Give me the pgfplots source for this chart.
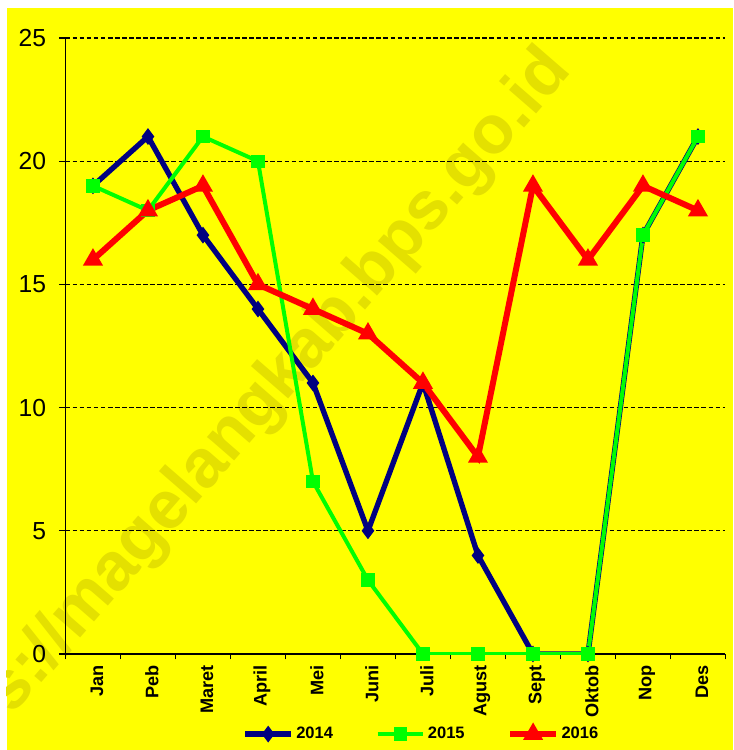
\documentclass[border=0pt]{standalone}
\usepackage{fontspec}
\setmainfont{Liberation Sans}
\usepackage{pgfplots}
\pgfplotsset{compat=1.18}
\definecolor{bgyellow}{RGB}{255,255,0}
\definecolor{wmark}{RGB}{228,224,0}
\definecolor{navyline}{RGB}{0,0,128}
\definecolor{greenline}{RGB}{0,255,0}
\definecolor{redline}{RGB}{255,0,0}
\begin{document}
\begin{tikzpicture}
\useasboundingbox (0,0) rectangle (549.75pt,562.5pt);
\fill[white] (0,0) rectangle (549.75pt,562.5pt);
\fill[bgyellow] (5pt,0pt) rectangle (549.75pt,556.5pt);
\begin{scope}
\clip (5pt,0pt) rectangle (549.75pt,556.5pt);
\node[rotate=49, anchor=base east, text=wmark, inner sep=0pt,
  font=\fontsize{51}{55}\selectfont\bfseries] at (430pt,509pt) {https://magelangkab.bps.go.id};
\end{scope}
\begin{axis}[
  at={(49.1pt,72pt)}, anchor=south west,
  scale only axis, width=495pt, height=462pt,
  xmin=-0.5, xmax=11.5, ymin=0, ymax=25,
  axis lines*=left,
  axis line style={black, line width=0.9pt},
  ytick={0,5,...,25},
  ymajorgrids,
  grid style={black, line width=0.9pt, dash pattern=on 3.5pt off 1.8pt},
  xtick={0,...,11},
  xticklabels={Jan,Peb,Maret,April,Mei,Juni,Juli,Agust,Sept,Oktob,Nop,Des},
  minor xtick={-0.5,0.5,...,11.5},
  tick align=outside,
  major tick length=5pt,
  minor tick length=4pt,
  major x tick style={draw=none},
  minor x tick style={black, line width=0.9pt},
  y tick style={black, line width=0.9pt},
  /pgf/number format/assume math mode=true,
  yticklabel style={font=\fontsize{18.5}{20}\selectfont, xshift=-6pt},
  xticklabel style={rotate=90, anchor=east, font=\fontsize{13.6}{15}\selectfont\bfseries, yshift=-3pt},
  legend columns=3,
  legend style={draw=none, fill=none, at={(0.54,-0.13)}, anchor=center,
    font=\fontsize{12.4}{14}\selectfont\bfseries,
    /tikz/every even column/.append style={column sep=30pt}},
  legend image code/.code={\draw[mark repeat=2,mark phase=2] plot coordinates {(0cm,0cm)(0.6cm,0cm)(1.2cm,0cm)};},
]
\addplot[navyline, line width=4pt, mark=diamond*, mark size=3pt, mark options={solid}]
 coordinates {(0,19)(1,21)(2,17)(3,14)(4,11)(5,5)(6,11)(7,4)(8,0)(9,0)(10,17)(11,21)};
\addlegendentry{2014}
\addplot[greenline, line width=3pt, mark=square*, mark size=3.5pt, mark options={solid}]
 coordinates {(0,19)(1,18)(2,21)(3,20)(4,7)(5,3)(6,0)(7,0)(8,0)(9,0)(10,17)(11,21)};
\addlegendentry{2015}
\addplot[redline, line width=4.5pt, mark=triangle*, mark size=4.2pt, mark options={solid}]
 coordinates {(0,16)(1,18)(2,19)(3,15)(4,14)(5,13)(6,11)(7,8)(8,19)(9,16)(10,19)(11,18)};
\addlegendentry{2016}
\end{axis}
\end{tikzpicture}
\end{document}
